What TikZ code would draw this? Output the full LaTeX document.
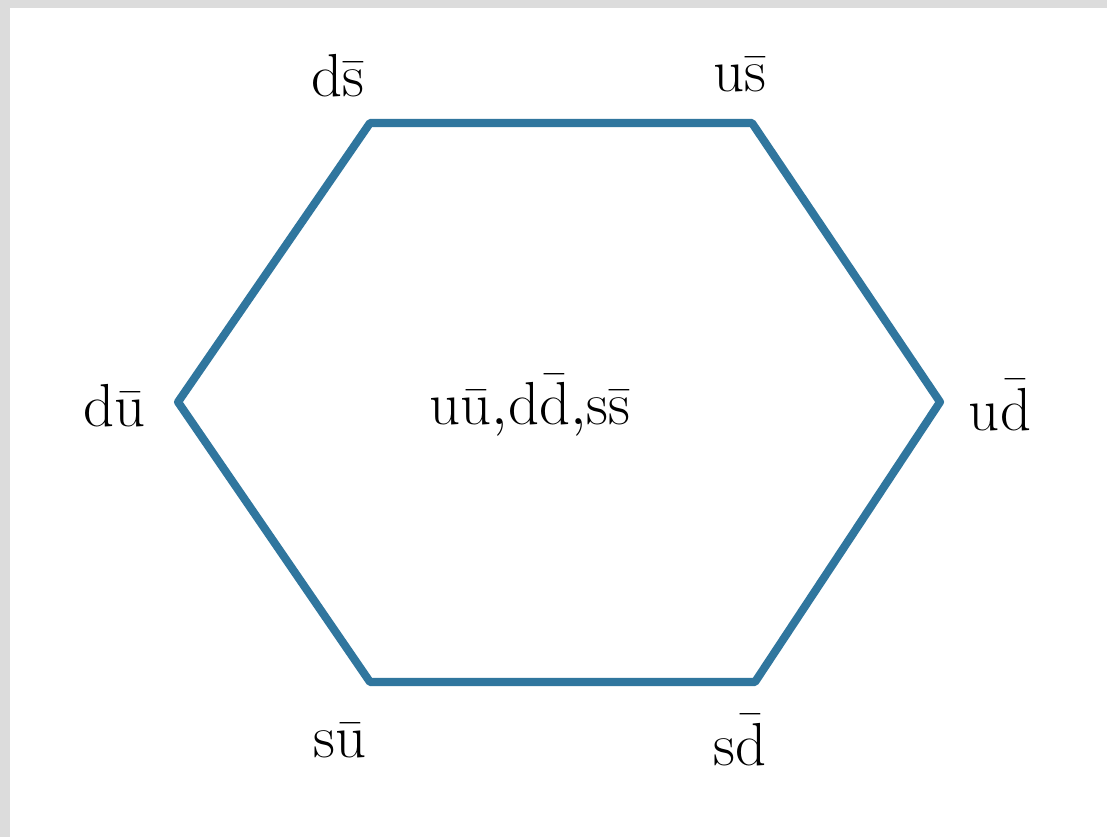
\documentclass[tikz,border=0pt]{standalone}
\usetikzlibrary{positioning}
\definecolor{hexblue}{RGB}{48,118,158}
\definecolor{framegray}{RGB}{220,220,220}
\newcommand{\qq}[2]{\mathrm{#1}\bar{\mathrm{#2}}}
\begin{document}
\begin{tikzpicture}[
    x=0.01cm, y=-0.01cm,
    quark/.style={font=\fontsize{17}{20}\selectfont, inner sep=0pt},
    edge/.style={hexblue, line width=2.3pt, line join=round}
]
    \fill[framegray] (0,0) rectangle (1107,837);
    \fill[white] (10,8) rectangle (1107,837);
    \useasboundingbox (0,0) rectangle (1107,837);

    % corners of the hexagon
    \coordinate (tl) at (370,123);
    \coordinate (tr) at (752,123);
    \coordinate (r) at (940,402);
    \coordinate (br) at (755,682);
    \coordinate (bl) at (370,682);
    \coordinate (l) at (178,402);

    \draw[edge] (tl) -- (tr) -- (r) -- (br) -- (bl) -- (l) -- cycle;

    % labels
    \node[quark] (kzero) at (338,75) {$\qq{d}{s}$};
    \node[quark] (kplus) at (740,75) {$\qq{u}{s}$};
    \node[quark] (piminus) at (115,405) {$\qq{d}{u}$};
    \node[quark] (center) at (530,405) {$\qq{u}{u}{,}\qq{d}{d}{,}\qq{s}{s}$};
    \node[quark] (piplus) at (1000,405) {$\qq{u}{d}$};
    \node[quark] (kminus) at (340,740) {$\qq{s}{u}$};
    \node[quark] (kzerobar) at (740,740) {$\qq{s}{d}$};
\end{tikzpicture}
\end{document}
